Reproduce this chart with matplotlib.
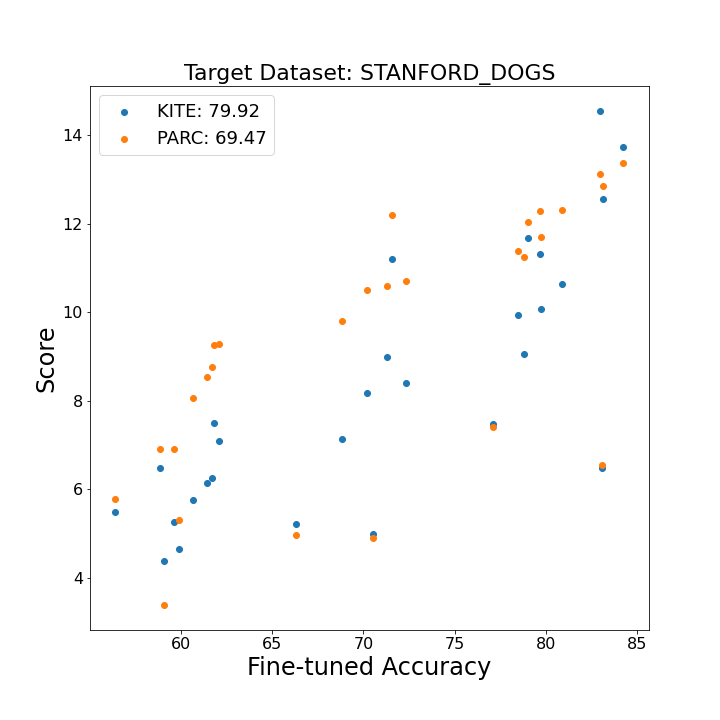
import matplotlib
matplotlib.use("Agg")
import matplotlib.pyplot as plt

accuracy = [56.40, 58.83, 59.05, 59.59, 59.87, 60.64, 61.40, 61.68, 61.79, 62.06,
            66.33, 68.85, 70.17, 70.55, 71.27, 71.54, 72.36, 77.13, 78.50, 78.83,
            79.05, 79.70, 79.76, 80.91, 82.99, 83.10, 83.16, 84.25]
kite_scores = [5.48, 6.47, 4.39, 5.25, 4.66, 5.76, 6.15, 6.25, 7.50, 7.08,
               5.21, 7.13, 8.17, 4.99, 8.98, 11.19, 8.41, 7.48, 9.93, 9.05,
               11.67, 11.31, 10.06, 10.63, 14.54, 6.49, 12.55, 13.74]
parc_scores = [5.77, 6.90, 3.38, 6.92, 5.30, 8.07, 8.53, 8.75, 9.25, 9.27,
               4.96, 9.81, 10.49, 4.89, 10.60, 12.19, 10.70, 7.40, 11.37, 11.24,
               12.03, 12.28, 11.69, 12.30, 13.13, 6.54, 12.86, 13.36]
labels = ["KITE: 79.92", "PARC: 69.47"]
title = "Target Dataset: STANFORD_DOGS"

fig = plt.figure(figsize=(10, 10), dpi=72)
ax = fig.add_axes([0.125, 0.125, 0.776, 0.755])
ax.scatter(accuracy, kite_scores, color="#1f77b4", label=labels[0])
ax.scatter(accuracy, parc_scores, color="#ff7f0e", label=labels[1])
ax.set_title(title, fontsize=22)
ax.set_xlabel("Fine-tuned Accuracy", fontsize=24)
ax.set_ylabel("Score", fontsize=24)
ax.tick_params(labelsize=16)
ax.legend(loc="upper left", fontsize=18, scatterpoints=1)
fig.savefig("out.png", dpi=72)
